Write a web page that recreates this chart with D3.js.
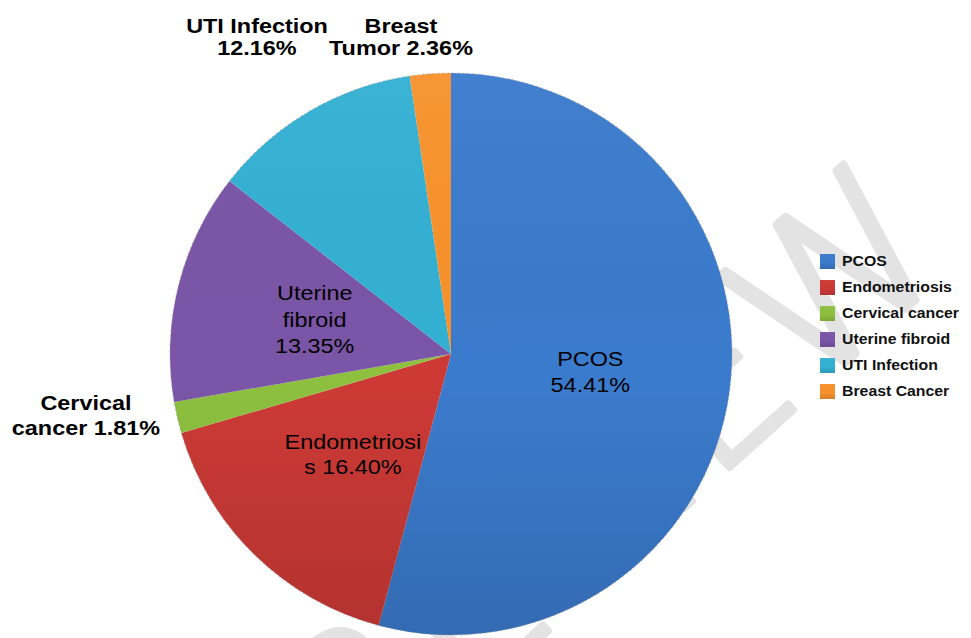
<!DOCTYPE html>
<html>
<head>
<meta charset="utf-8">
<script src="https://cdn.jsdelivr.net/npm/d3@7"></script>
<style>
  html, body { margin: 0; padding: 0; background: #fff; }
  svg { display: block; }
</style>
</head>
<body>
<svg id="chart" width="971" height="638"></svg>
<script>
// chart data
const categories = ["PCOS", "Endometriosis", "Cervical cancer", "Uterine fibroid", "UTI Infection", "Breast Cancer"];
const percents = [54.41, 16.40, 1.81, 13.35, 12.16, 2.36];
const colors = ["#3b7bcd", "#cd3a36", "#8dc03f", "#7b55a7", "#33b0d3", "#f7922c"];
const labelNames = [["PCOS"], ["Endometriosi", "s"], ["Cervical", "cancer"], ["Uterine", "fibroid"], ["UTI Infection"], ["Breast", "Tumor"]];

const width = 971, height = 638;
const cx = 451, cy = 354, R = 281;

const svg = d3.select("#chart");
const defs = svg.append("defs");

// slight top-to-bottom shading like the office chart
const shade = defs.append("linearGradient")
    .attr("id", "shade").attr("x1", 0).attr("y1", 0).attr("x2", 0).attr("y2", 1);
shade.append("stop").attr("offset", "0%").attr("stop-color", "#fff").attr("stop-opacity", 0.04);
shade.append("stop").attr("offset", "55%").attr("stop-color", "#000").attr("stop-opacity", 0.0);
shade.append("stop").attr("offset", "100%").attr("stop-color", "#000").attr("stop-opacity", 0.13);

// watermark (sits under the pie), clipped to the page
defs.append("clipPath").attr("id", "page")
  .append("rect").attr("width", width).attr("height", height);

svg.append("g").attr("clip-path", "url(#page)")
  .append("text")
    .attr("transform", "translate(958,262) rotate(-42)")
    .attr("text-anchor", "end")
    .style("font-family", "DejaVu Sans")
    .style("font-weight", 200)
    .style("font-size", "205px")
    .attr("fill", "#e3e3e3")
    .attr("stroke", "#e3e3e3")
    .attr("stroke-width", 7)
    .attr("stroke-linejoin", "round")
    .text("REVIEW");

const pie = d3.pie().sort(null).value(d => d);
const arcs = pie(percents);
const arc = d3.arc().innerRadius(0).outerRadius(R);
const labelArc = d3.arc().innerRadius(R * 0.5).outerRadius(R * 0.5);

const g = svg.append("g").attr("transform", `translate(${cx},${cy})`);

g.selectAll("path.slice")
    .data(arcs)
    .join("path")
    .attr("class", "slice")
    .attr("d", arc)
    .attr("fill", (d, i) => colors[i]);

g.append("circle")
    .attr("r", R)
    .attr("fill", "url(#shade)");

g.append("circle")
    .attr("r", R)
    .attr("fill", "none")
    .attr("stroke", "#9a9a9a")
    .attr("stroke-width", 1.2)
    .attr("stroke-dasharray", "2,3")
    .attr("opacity", 0.6);

const fmt = d => d.toFixed(2) + "%";

// stretch text a bit wider, the source picture is slightly squashed
function stretch(sel, k) {
  sel.each(function() {
    const w = this.getComputedTextLength();
    d3.select(this).attr("textLength", w * k).attr("lengthAdjust", "spacingAndGlyphs");
  });
}

function drawLabel(lines, x, y, lh, bold) {
  const t = svg.append("text")
      .attr("text-anchor", "middle")
      .style("font-family", "Liberation Sans, Arial, sans-serif")
      .style("font-size", "20px")
      .style("font-weight", bold ? "bold" : "normal")
      .attr("fill", "#000");
  lines.forEach((s, k) => {
    t.append("tspan")
        .attr("x", x)
        .attr("y", y + (k - (lines.length - 1) / 2) * lh + 7)
        .text(s);
  });
  stretch(t.selectAll("tspan"), 1.17);
}

// labels inside the big slices
[0, 1, 3].forEach(i => {
  const [x, y] = labelArc.centroid(arcs[i]);
  let lines = labelNames[i].slice();
  if (i === 1) lines = [lines[0], lines[1] + " " + fmt(percents[i])];
  else lines.push(fmt(percents[i]));
  drawLabel(lines, cx + x, cy + y, i === 3 ? 26.5 : 25.5, false);
});

// labels outside the thin slices
const outside = { 2: [86, 415, 25], 4: [257, 37, 22], 5: [401, 37, 22] };
[2, 4, 5].forEach(i => {
  const names = labelNames[i];
  const lines = names.length > 1 ? [names[0], names[1] + " " + fmt(percents[i])] : [names[0], fmt(percents[i])];
  const [x, y, lh] = outside[i];
  drawLabel(lines, x, y, lh, true);
});

// legend
const legend = svg.append("g").attr("transform", "translate(820,254)");
const item = legend.selectAll("g.item")
    .data(categories)
    .join("g")
    .attr("class", "item")
    .attr("transform", (d, i) => `translate(0,${i * 26})`);

item.append("rect")
    .attr("width", 15).attr("height", 15)
    .attr("fill", (d, i) => colors[i]);
item.append("rect")
    .attr("width", 15).attr("height", 15)
    .attr("fill", "url(#shade)");

item.append("text")
    .attr("x", 22)
    .attr("y", 12)
    .style("font-family", "Liberation Sans, Arial, sans-serif")
    .style("font-size", "14px")
    .style("font-weight", "bold")
    .attr("fill", "#111")
    .text(d => d);
stretch(item.selectAll("text"), 1.13);
</script>
</body>
</html>
